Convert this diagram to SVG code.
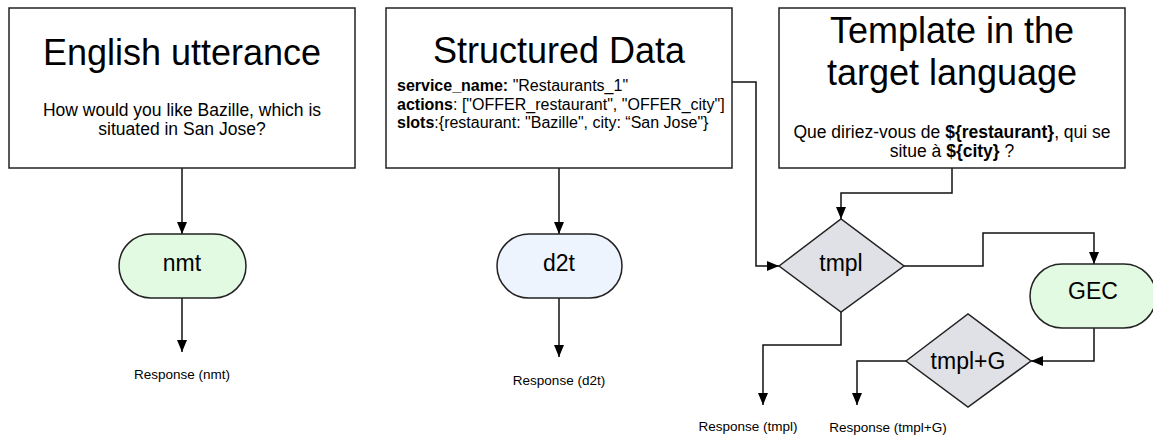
<svg xmlns="http://www.w3.org/2000/svg" width="1153" height="437" viewBox="0 0 1153 437">
<defs>
<marker id="arr" viewBox="0 0 12 10" refX="12" refY="5" markerWidth="12" markerHeight="10" markerUnits="userSpaceOnUse" orient="auto">
<path d="M0,0 L12,5 L0,10 z" fill="#000"/>
</marker>
<style>
text{font-family:"Liberation Sans",Arial,sans-serif;fill:#000}
.box{fill:#fff;stroke:#222;stroke-width:1.5}
.title{font-size:36px;text-anchor:middle}
.body{font-size:17.5px;text-anchor:middle}
.lbl{font-size:13.5px;text-anchor:middle}
.proc{font-size:23px;text-anchor:middle}
.green{fill:#e2f9e2;stroke:#222;stroke-width:1.5}
.blue{fill:#edf4fd;stroke:#222;stroke-width:1.5}
.gray{fill:#dfe1e6;stroke:#222;stroke-width:1.5}
.conn{fill:none;stroke:#111;stroke-width:1.5;marker-end:url(#arr)}
.b{font-weight:bold}
</style>
</defs>
<rect width="1153" height="437" fill="#fff"/>
<g id="connectors">
<path class="conn" d="M182,168 V234"/>
<path class="conn" d="M182,298 V352"/>
<path class="conn" d="M559,168 V234"/>
<path class="conn" d="M559,298 V357"/>
<path class="conn" d="M732,82 H756 V266 H779"/>
<path class="conn" d="M952,168 V193 H841 V219"/>
<path class="conn" d="M904,266 H983 V233 H1094 V264"/>
<path class="conn" d="M1094,328 V361 H1031"/>
<path class="conn" d="M841,312 V345 H763 V405"/>
<path class="conn" d="M906,361 H857 V405"/>
</g>
<g id="english">
<rect class="box" x="9" y="8" width="346" height="160"/>
<text class="title" x="182" y="65">English utterance</text>
<text class="body" x="182" y="116">How would you like Bazille, which is</text>
<text class="body" x="182" y="135">situated in San Jose?</text>
</g>
<g id="structured">
<rect class="box" x="386" y="8" width="346" height="160"/>
<text class="title" x="559" y="63">Structured Data</text>
<text x="397" y="91" font-size="16"><tspan class="b">service_name:</tspan> "Restaurants_1"</text>
<text x="397" y="109.5" font-size="16"><tspan class="b">actions</tspan>: ["OFFER_restaurant", "OFFER_city"]</text>
<text x="397" y="128" font-size="16"><tspan class="b">slots</tspan>:{restaurant: "Bazille", city: “San Jose"}</text>
</g>
<g id="template">
<rect class="box" x="779" y="8" width="346" height="160"/>
<text class="title" x="952" y="43">Template in the</text>
<text class="title" x="952" y="85">target language</text>
<text class="body" x="952" y="138">Que diriez-vous de <tspan class="b">${restaurant}</tspan>, qui se</text>
<text class="body" x="952" y="157">situe à <tspan class="b">${city}</tspan> ?</text>
</g>
<g id="nmt">
<rect class="green" x="119" y="234" width="127" height="64" rx="32"/>
<text class="proc" x="182" y="271">nmt</text>
</g>
<g id="d2t">
<rect class="blue" x="497" y="234" width="125" height="64" rx="32"/>
<text class="proc" x="559" y="271">d2t</text>
</g>
<g id="tmpl">
<path class="gray" d="M779,266 L841,219 L904,266 L841,312 Z"/>
<text class="proc" x="841" y="271">tmpl</text>
</g>
<g id="gec">
<rect class="green" x="1030" y="264" width="126" height="64" rx="32"/>
<text class="proc" x="1093" y="299">GEC</text>
</g>
<g id="tmplG">
<path class="gray" d="M906,361 L968,314 L1031,361 L968,407 Z"/>
<text class="proc" x="968" y="369">tmpl+G</text>
</g>
<g id="labels">
<text class="lbl" x="182" y="379">Response (nmt)</text>
<text class="lbl" x="559" y="385">Response (d2t)</text>
<text class="lbl" x="748" y="431">Response (tmpl)</text>
<text class="lbl" x="888" y="432">Response (tmpl+G)</text>
</g>
</svg>
